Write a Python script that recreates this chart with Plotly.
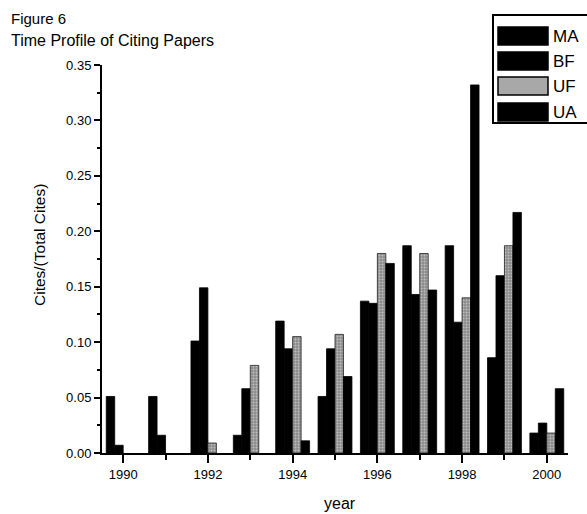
import plotly.graph_objects as go

years = [1990, 1991, 1992, 1993, 1994, 1995, 1996, 1997, 1998, 1999, 2000]
MA = [0.051, 0.051, 0.101, 0.016, 0.119, 0.051, 0.137, 0.187, 0.187, 0.086, 0.018]
BF = [0.007, 0.016, 0.149, 0.058, 0.094, 0.094, 0.135, 0.143, 0.118, 0.160, 0.027]
UF = [0.000, 0.000, 0.009, 0.079, 0.105, 0.107, 0.180, 0.180, 0.140, 0.187, 0.018]
UA = [0.000, 0.000, 0.000, 0.000, 0.011, 0.069, 0.171, 0.147, 0.332, 0.217, 0.058]
series_names = ["MA", "BF", "UF", "UA"]
major_years = [1990, 1992, 1994, 1996, 1998, 2000]
minor_years = [1991, 1993, 1995, 1997, 1999]

FONT = "Arial, Liberation Sans, sans-serif"

fig = go.Figure()
for name, vals in zip(series_names, [MA, BF, UF, UA]):
    lw = [0.8 if v > 0 else 0 for v in vals]
    if name == "UF":
        marker = dict(color="#9a9a9a", line=dict(width=lw, color="#202020"),
                      pattern=dict(shape=".", bgcolor="#8a8a8a", fgcolor="#f2f2f2",
                                   size=3, solidity=0.35))
    else:
        marker = dict(color="#000000", line=dict(width=lw, color="#000000"))
    fig.add_trace(go.Bar(x=years, y=vals, name=name, marker=marker, showlegend=False))

L, R, T, B = 102, 19, 65, 61
W, H = 587, 514
pw, ph = W - L - R, H - T - B

def px(x):
    return (x - L) / pw

def py(y):
    return (H - B - y) / ph

shapes = []
annotations = []
# custom legend box
shapes.append(dict(type="rect", xref="paper", yref="paper",
                   x0=px(493), x1=px(600), y0=py(123), y1=py(15),
                   line=dict(color="black", width=2), fillcolor="white", layer="above"))
centers = [36, 61, 86, 112]
for name, cy in zip(series_names, centers):
    fill = "#a8a8a8" if name == "UF" else "black"
    shapes.append(dict(type="rect", xref="paper", yref="paper",
                       x0=px(498), x1=px(548), y0=py(cy + 9), y1=py(cy - 9),
                       line=dict(color="black", width=1.5), fillcolor=fill, layer="above"))
    annotations.append(dict(text=name, xref="paper", yref="paper", x=px(551), y=py(cy),
                            xanchor="left", yanchor="middle", showarrow=False,
                            font=dict(family=FONT, size=17, color="black")))

annotations.append(dict(text="Figure 6", xref="paper", yref="paper", x=px(9), y=py(19),
                        xanchor="left", yanchor="middle", showarrow=False,
                        font=dict(family=FONT, size=15, color="black")))
annotations.append(dict(text="Time Profile of Citing Papers", xref="paper", yref="paper",
                        x=px(9), y=py(40), xanchor="left", yanchor="middle", showarrow=False,
                        font=dict(family=FONT, size=16, color="black")))
annotations.append(dict(text="Cites/(Total Cites)", xref="paper", yref="paper",
                        x=px(39), y=py(245), xanchor="center", yanchor="middle",
                        textangle=-90, showarrow=False,
                        font=dict(family=FONT, size=15.5, color="black")))
annotations.append(dict(text="year", xref="paper", yref="paper",
                        x=px(340), y=py(503), xanchor="center", yanchor="middle",
                        showarrow=False, font=dict(family=FONT, size=16, color="black")))

fig.update_layout(
    width=W, height=H,
    margin=dict(l=L, r=R, t=T, b=B, pad=0),
    paper_bgcolor="white", plot_bgcolor="white",
    barmode="group", bargap=0.2, bargroupgap=0,
    font=dict(family=FONT, size=13, color="black"),
    shapes=shapes, annotations=annotations,
    xaxis=dict(range=[1989.5, 2000.5], tickmode="array", tickvals=major_years,
               ticktext=[str(y) for y in major_years],
               ticks="outside", ticklen=8, tickwidth=2, tickcolor="black",
               showline=True, linecolor="black", linewidth=2,
               showgrid=False, zeroline=False,
               tickfont=dict(family=FONT, size=13),
               minor=dict(tickmode="array", tickvals=minor_years, ticks="outside",
                          ticklen=5, tickwidth=2, tickcolor="black", showgrid=False)),
    yaxis=dict(range=[0, 0.35], tickmode="linear", tick0=0, dtick=0.05,
               tickformat=".2f", ticks="outside", ticklen=6, tickwidth=2,
               tickcolor="black", showline=True, linecolor="black", linewidth=2,
               showgrid=False, zeroline=False,
               tickfont=dict(family=FONT, size=13),
               minor=dict(dtick=0.025, ticks="outside", ticklen=3, tickwidth=1.5,
                          tickcolor="black", showgrid=False)),
)

fig.write_html("out.html", config={"displayModeBar": False},
               post_script="document.body.style.margin='0';document.body.style.padding='0';")
